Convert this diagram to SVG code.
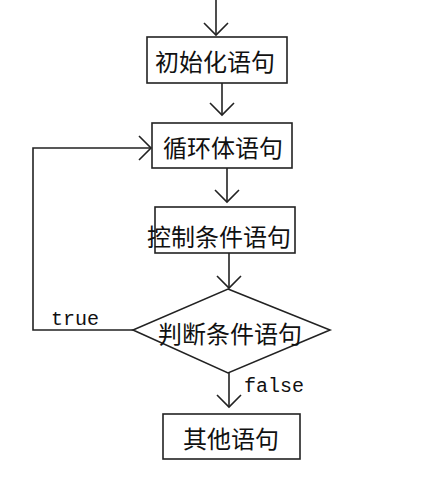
<svg xmlns="http://www.w3.org/2000/svg" width="433" height="490" viewBox="0 0 433 490">
<style>
.box{fill:#fff;stroke:#222;stroke-width:1.6}
.lbl{font-family:"Noto Sans CJK SC","Noto Sans",sans-serif;font-size:24px;fill:#111;text-anchor:middle;dominant-baseline:central}
.edge{fill:none;stroke:#222;stroke-width:1.6}
.mono{font-family:"Liberation Mono",monospace;font-size:20px;fill:#111}
</style>
<defs>
<marker id="arr" markerUnits="userSpaceOnUse" markerWidth="16" markerHeight="28" refX="13" refY="14" orient="auto" viewBox="0 0 16 28">
<path d="M1,2 L13,14 L1,26" fill="none" stroke="#222" stroke-width="1.6"/>
</marker>
</defs>
<rect width="433" height="490" fill="#fff"/>
<g id="connectors">
<path class="edge" d="M216,0 L216,35" marker-end="url(#arr)"/>
<path class="edge" d="M222,83 L222,115" marker-end="url(#arr)"/>
<path class="edge" d="M227,168 L227,202" marker-end="url(#arr)"/>
<path class="edge" d="M229,253 L229,288" marker-end="url(#arr)"/>
<path class="edge" d="M229,373 L229,407" marker-end="url(#arr)"/>
<path class="edge" d="M133,330 L33,330 L33,148 L151,148" marker-end="url(#arr)"/>
<text class="mono" x="51" y="325">true</text>
<text class="mono" x="244" y="392">false</text>
</g>
<g id="init">
<rect class="box" x="147" y="37" width="140" height="46"/>
<text class="lbl" x="215" y="60">初始化语句</text>
</g>
<g id="body">
<rect class="box" x="152" y="123" width="140" height="45"/>
<text class="lbl" x="223" y="146">循环体语句</text>
</g>
<g id="control">
<rect class="box" x="155" y="207" width="140" height="46"/>
<text class="lbl" x="219" y="235">控制条件语句</text>
</g>
<g id="cond">
<polygon class="box" points="228,289 330,330 228,373 133,330"/>
<text class="lbl" x="230" y="332">判断条件语句</text>
</g>
<g id="other">
<rect class="box" x="163" y="414" width="137" height="45"/>
<text class="lbl" x="231" y="437">其他语句</text>
</g>
</svg>
